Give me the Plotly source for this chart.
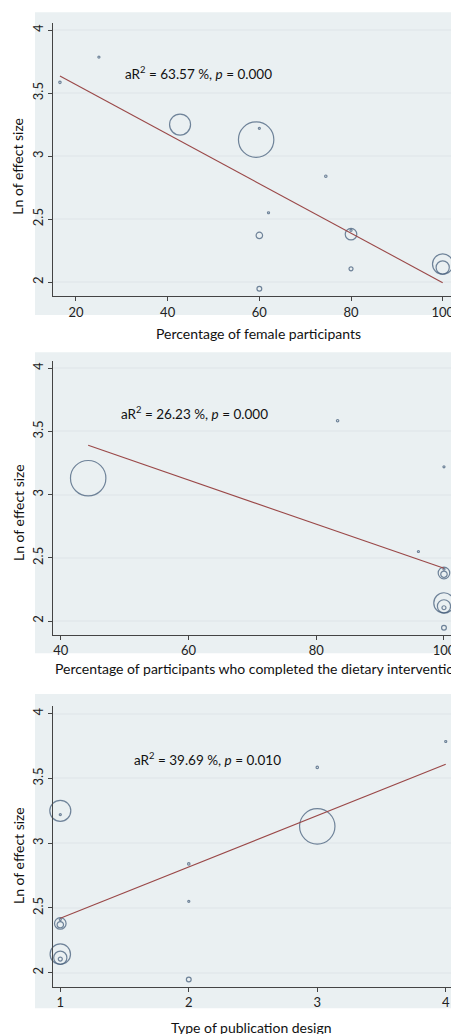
import math
import plotly.graph_objects as go

# ---- data (14 studies) ----
ln_effect = [3.785, 3.585, 3.25, 3.13, 3.22, 2.84, 2.55, 2.37, 2.38, 2.41, 2.105, 1.947, 2.143, 2.116]
pct_female = [25, 16.5, 42.7, 59.3, 60, 74.5, 62, 60, 80, 80, 80, 60, 100, 100]
pct_completed = [None, 83.35, None, 44.3, 100, None, 96, 100, 100, 100, 100, 100, 100, 100]
pub_design = [4, 3, 1, 3, 1, 2, 2, 1, 1, 1, 1, 2, 1, 1]
study_weight = [0.16, 0.46, 35.2, 100, 0.12, 0.46, 0.12, 3.3, 10.7, 0.2, 1.28, 1.84, 33.2, 13.9]

fit_female_x = [16.5, 100]
fit_female_y = [3.635, 1.995]
fit_completed_x = [44.3, 100]
fit_completed_y = [3.39, 2.417]
fit_design_x = [1, 4]
fit_design_y = [2.42, 3.609]

ann_texts = [
    "aR<sup>2</sup> = 63.57 %, <i>p</i> = 0.000",
    "aR<sup>2</sup> = 26.23 %, <i>p</i> = 0.000",
    "aR<sup>2</sup> = 39.69 %, <i>p</i> = 0.010",
]
x_titles = [
    "Percentage of female participants",
    "Percentage of participants who completed the dietary intervention",
    "Type of publication design",
]
y_title = "Ln of effect size"
y_ticks = [2, 2.5, 3, 3.5, 4]
y_ticklabels = ["2", "2.5", "3", "3.5", "4"]
x_ticks_female = [20, 40, 60, 80, 100]
x_ticks_completed = [40, 60, 80, 100]
x_ticks_design = [1, 2, 3, 4]

# ---- styles ----
W, H = 451, 1034
FONT = "Lato"
NAVY = "#3b5574"
MAROON = "#9a4848"
BG = "#eaf0f2"
GRID = "#e4eaed"
AXIS = "#444444"


def diam(w):
    return max(2.0, 35.4 * math.sqrt(w / 100.0))


sizes = [diam(w) for w in study_weight]

fig = go.Figure()

panels = [
    dict(x=pct_female, fx=fit_female_x, fy=fit_female_y, xr=[15.05, 101.81], yr=[1.889, 4.058],
         dom=[0.7137, 0.9780], ticks=x_ticks_female, ann=(30.26, 3.659), bg=(12.3, 315),
         ytit=166.7, xtit=(258, 333)),
    dict(x=pct_completed, fx=fit_completed_x, fy=fit_completed_y, xr=[38.84, 101.1], yr=[1.892, 4.060],
         dom=[0.3862, 0.6512], ticks=x_ticks_completed, ann=(49.12, 3.646), bg=(352.3, 653.3),
         ytit=513, xtit=(258, 668)),
    dict(x=pub_design, fx=fit_design_x, fy=fit_design_y, xr=[0.9455, 4.041], yr=[1.892, 4.059],
         dom=[0.0458, 0.3172], ticks=x_ticks_design, ann=(1.558, 3.65), bg=(694, 1008.3),
         ytit=856, xtit=(252, 1027)),
]

shapes = []
annotations = []
layout_axes = {}
for i, p in enumerate(panels):
    n = "" if i == 0 else str(i + 1)
    xa, ya = "x" + n, "y" + n
    xs, ys, ss = [], [], []
    for xv, yv, sv in zip(p["x"], ln_effect, sizes):
        if xv is None:
            continue
        xs.append(xv)
        ys.append(yv)
        ss.append(sv)
    order = sorted(range(len(xs)), key=lambda k: -ss[k])
    fig.add_trace(go.Scatter(
        x=[xs[k] for k in order], y=[ys[k] for k in order], mode="markers",
        marker=dict(size=[ss[k] for k in order], color="rgba(0,0,0,0)",
                    line=dict(color=NAVY, width=1.2)),
        xaxis=xa, yaxis=ya, showlegend=False, hoverinfo="skip", cliponaxis=False))
    fig.add_trace(go.Scatter(
        x=p["fx"], y=p["fy"], mode="lines", line=dict(color=MAROON, width=1.1),
        xaxis=xa, yaxis=ya, showlegend=False, hoverinfo="skip"))

    layout_axes["xaxis" + n] = dict(
        domain=[53.3 / W, 1.0], range=p["xr"], anchor=ya, tickvals=p["ticks"],
        ticks="outside", ticklen=4, tickcolor=AXIS, showline=True, linecolor=AXIS, linewidth=1,
        showgrid=False, zeroline=False, tickfont=dict(family=FONT, size=13, color="#222222"),
        ticklabeloverflow="allow", automargin=False, fixedrange=True)
    layout_axes["yaxis" + n] = dict(
        domain=p["dom"], range=p["yr"], anchor=xa, tickvals=y_ticks, ticktext=y_ticklabels,
        tickangle=-90, ticks="outside", ticklen=4, tickcolor=AXIS, showline=True, linecolor=AXIS,
        linewidth=1, showgrid=True, gridcolor=GRID, gridwidth=1.5, zeroline=False,
        tickfont=dict(family=FONT, size=13, color="#222222"), ticklabeloverflow="allow",
        automargin=False, fixedrange=True)

    shapes.append(dict(type="rect", xref="paper", yref="paper", x0=35 / W, x1=1.0,
                       y0=1 - p["bg"][1] / H, y1=1 - p["bg"][0] / H,
                       fillcolor=BG, line=dict(width=0), layer="below"))
    annotations.append(dict(text=ann_texts[i], x=p["ann"][0], y=p["ann"][1], xref=xa, yref=ya,
                            xanchor="left", yanchor="middle", showarrow=False,
                            font=dict(family=FONT, size=13.5, color="#111111")))
    annotations.append(dict(text=y_title, x=18 / W, y=1 - p["ytit"] / H, xref="paper", yref="paper",
                            xanchor="center", yanchor="middle", textangle=-90, showarrow=False,
                            font=dict(family=FONT, size=14, color="#111111")))
    annotations.append(dict(text=x_titles[i], x=p["xtit"][0] / W, y=1 - p["xtit"][1] / H,
                            xref="paper", yref="paper", xanchor="center", yanchor="middle",
                            showarrow=False, font=dict(family=FONT, size=14, color="#111111")))

fig.update_layout(
    width=W, height=H, margin=dict(l=0, r=0, t=0, b=0),
    paper_bgcolor="white", plot_bgcolor="white",
    shapes=shapes, annotations=annotations, showlegend=False,
    **layout_axes)

fig.write_html("out.html", config=dict(displayModeBar=False),
               post_script="document.body.style.margin='0';document.body.style.overflow='hidden';")
